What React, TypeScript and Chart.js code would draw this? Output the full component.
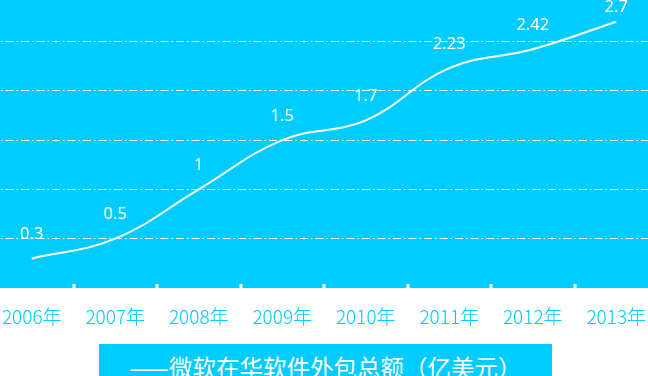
import React, { useEffect, useRef } from "react";
import { Chart, registerables } from "chart.js";

Chart.register(...registerables);

const years = ["2006年", "2007年", "2008年", "2009年", "2010年", "2011年", "2012年", "2013年"];
const values = [0.3, 0.5, 1, 1.5, 1.7, 2.23, 2.42, 2.7];
const yGridTicks = [0.5, 1, 1.5, 2, 2.5];
const yMin = 0;
const yMax = 2.92;
const seriesName = "微软在华软件外包总额（亿美元）";

const CYAN = "#00ccff";

const bgPlugin = {
  id: "bgFill",
  beforeDraw(chart: any) {
    const { ctx, chartArea } = chart;
    ctx.save();
    ctx.fillStyle = CYAN;
    ctx.fillRect(chartArea.left, chartArea.top, chartArea.right - chartArea.left, chartArea.bottom - chartArea.top);
    ctx.restore();
  },
  afterDraw(chart: any) {
    const { ctx, chartArea } = chart;
    const xs = chart.scales.x;
    ctx.save();
    ctx.fillStyle = "#ffffff";
    for (let i = 0; i < years.length - 1; i++) {
      const bx = (xs.getPixelForValue(i) + xs.getPixelForValue(i + 1)) / 2;
      ctx.fillRect(Math.round(bx) - 1.5, chartArea.bottom - 4, 3, 4);
    }
    ctx.restore();
  },
};

const labelPlugin = {
  id: "valueLabels",
  afterDatasetsDraw(chart: any) {
    const { ctx } = chart;
    const meta = chart.getDatasetMeta(0);
    ctx.save();
    ctx.fillStyle = "#ffffff";
    ctx.font = '16.5px "Noto Sans"';
    ctx.textAlign = "center";
    ctx.textBaseline = "middle";
    meta.data.forEach((p: any, i: number) => {
      const y = Math.max(p.y - 24, 7);
      ctx.fillText(String(values[i]), p.x, y);
    });
    ctx.restore();
  },
};

export default function App() {
  const ref = useRef<HTMLCanvasElement>(null);
  useEffect(() => {
    if (!ref.current) return;
    const chart = new Chart(ref.current, {
      type: "line",
      data: {
        labels: years,
        datasets: [
          {
            label: seriesName,
            data: values,
            borderColor: "#ffffff",
            borderWidth: 2,
            pointRadius: 0,
            pointHoverRadius: 0,
            tension: 0.4,
            fill: false,
          },
        ],
      },
      options: {
        responsive: false,
        animation: false,
        layout: { padding: { top: 0, bottom: 46, left: 0, right: 0 } },
        plugins: { legend: { display: false }, tooltip: { enabled: false } },
        scales: {
          x: {
            offset: true,
            border: { display: false },
            grid: { display: false, drawTicks: false },
            afterFit(scale: any) {
              scale.height = 42;
              scale.paddingLeft = 0;
              scale.paddingRight = 0;
            },
            ticks: {
              autoSkip: false,
              maxRotation: 0,
              padding: 17,
              color: CYAN,
              font: { family: '"Noto Sans CJK SC"', size: 19, weight: "300" },
            },
          },
          y: {
            min: yMin,
            max: yMax,
            afterBuildTicks(scale: any) {
              scale.ticks = yGridTicks.map((v) => ({ value: v }));
            },
            afterFit(scale: any) {
              scale.width = 0;
              scale.paddingTop = 0;
              scale.paddingBottom = 0;
            },
            border: { display: false, dash: [8, 3, 1.5, 3] },
            grid: {
              color: "#ffffff",
              lineWidth: 1,
              drawTicks: false,
            },
            ticks: { display: false },
          },
        },
      } as any,
      plugins: [bgPlugin, labelPlugin],
    });
    return () => chart.destroy();
  }, []);

  return (
    <div style={{ position: "fixed", left: 0, top: 0, width: 648, height: 376, overflow: "hidden", background: "#fff" }}>
      <canvas ref={ref} width={668} height={376} style={{ position: "absolute", left: -10, top: 0 }} />
      <div
        style={{
          position: "absolute",
          left: 99,
          top: 344,
          width: 453,
          height: 32,
          background: CYAN,
          color: "#ffffff",
          fontFamily: '"Noto Sans CJK SC"',
          fontSize: 23.5,
          lineHeight: "24px",
          paddingTop: 11,
          boxSizing: "border-box",
          textAlign: "center",
          whiteSpace: "nowrap",
          overflow: "hidden",
        }}
      >
        {"——" + seriesName}
      </div>
    </div>
  );
}
